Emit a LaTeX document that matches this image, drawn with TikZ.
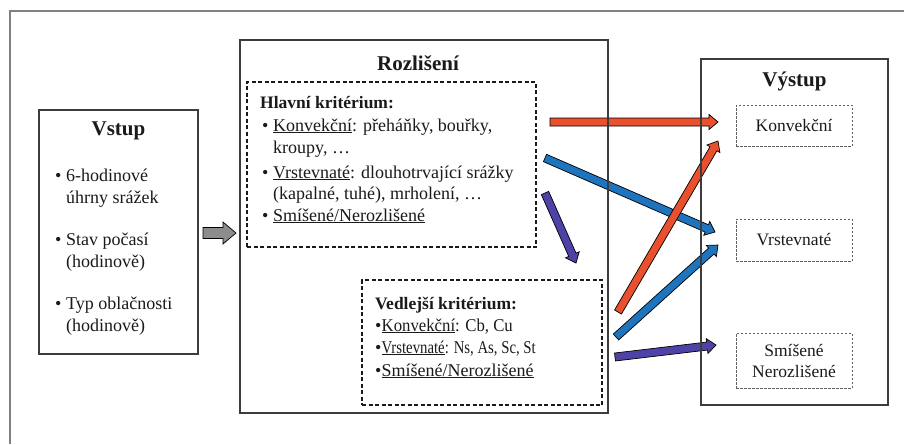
\documentclass[tikz,border=0pt]{standalone}
\usepackage{fontspec}
\usepackage{graphicx}
\setmainfont{Liberation Serif}
\usetikzlibrary{calc}
\definecolor{arrred}{HTML}{E8502E}
\definecolor{arrblue}{HTML}{1F74BE}
\definecolor{arrpurple}{HTML}{4E42A6}
\definecolor{arrgray}{HTML}{8C8C8C}
\definecolor{ink}{HTML}{1A1A1A}
\tikzset{
  solidbox/.style={draw=ink!85, line width=1.4pt, inner sep=0pt},
  dashbox/.style={draw=ink, line width=1.2pt, dash pattern=on 4pt off 2.5pt, inner sep=0pt},
  outbox/.style={draw=ink!70, line width=1pt, dash pattern=on 2.5pt off 1.5pt, inner sep=0pt, align=center, font=\fontsize{17.5}{21}\selectfont, text=ink},
  title/.style={font=\fontsize{21}{25}\selectfont\bfseries, text=ink, inner sep=0pt},
  body/.style={font=\fontsize{18}{22}\selectfont, text=ink, inner sep=0pt, anchor=base west},
  bodyb/.style={font=\fontsize{17.5}{22}\selectfont\bfseries, text=ink, inner sep=0pt, anchor=base west},
}
\newcommand\blockarrow[6]{% color, from, to, shaft half, head half, head length
  \coordinate (ba-c) at ($(#3)!#6!(#2)$);
  \filldraw[fill=#1, draw=black, line width=0.7pt, line join=miter]
    ($(#2)!#4!90:(#3)$) -- ($(ba-c)!#4!90:(#3)$) -- ($(ba-c)!#5!90:(#3)$) -- (#3)
    -- ($(ba-c)!#5!-90:(#3)$) -- ($(ba-c)!#4!-90:(#3)$) -- ($(#2)!#4!-90:(#3)$) -- cycle;
}
\newcommand\bul[1]{\makebox[#1][l]{•}}
\begin{document}
\begin{tikzpicture}[x=1pt, y=-1pt]
\useasboundingbox (0,0) rectangle (904,444);
\fill[white] (0,0) rectangle (904,444);
% outer frame
\coordinate (fr-tr) at (904,11);
\coordinate (fr-tl) at (10,11);
\coordinate (fr-bl) at (10,444);
\draw[color=black!50, line width=1.5pt] (fr-tr) -- (fr-tl) -- (fr-bl);

% arrow end points
\coordinate (g-s) at (203,233);  \coordinate (g-e) at (236,233);
\coordinate (r1-s) at (550,122); \coordinate (r1-e) at (718,122);
\coordinate (b1-s) at (545,158); \coordinate (b1-e) at (715,232);
\coordinate (p1-s) at (545,193); \coordinate (p1-e) at (576,263);
\coordinate (r2-s) at (618,312); \coordinate (r2-e) at (718,141);
\coordinate (b2-s) at (616,337); \coordinate (b2-e) at (718,245);
\coordinate (p2-s) at (615,357); \coordinate (p2-e) at (716,345);

\blockarrow{arrgray}{g-s}{g-e}{5.5pt}{11pt}{13pt}
\blockarrow{arrred}{r1-s}{r1-e}{4pt}{7.5pt}{9pt}
\blockarrow{arrblue}{b1-s}{b1-e}{4pt}{7.5pt}{9pt}
\blockarrow{arrpurple}{p1-s}{p1-e}{4pt}{7.5pt}{9pt}
\blockarrow{arrred}{r2-s}{r2-e}{4pt}{7.5pt}{9pt}
\blockarrow{arrblue}{b2-s}{b2-e}{4pt}{7.5pt}{9pt}
\blockarrow{arrpurple}{p2-s}{p2-e}{4pt}{7.5pt}{9pt}

% Vstup
\node[solidbox, minimum width=159pt, minimum height=244pt] (vstup) at (118.5,232) {};
\node[title] (vstup-t) at (118.5,131) {Vstup};
\node[body] (v1) at (55,181) {\bul{11pt}6-hodinové};
\node[body] (v2) at (66,203) {úhrny srážek};
\node[body] (v3) at (55,245) {\bul{11pt}Stav počasí};
\node[body] (v4) at (66,267) {(hodinově)};
\node[body] (v5) at (55,309) {\bul{11pt}Typ oblačnosti};
\node[body] (v6) at (66,331) {(hodinově)};

% Rozliseni
\node[solidbox, minimum width=368pt, minimum height=373pt] (rozl) at (424,226.5) {};
\node[title] (rozl-t) at (418,63) {Rozlišení};
\node[dashbox, minimum width=289pt, minimum height=165pt] (hlavni) at (391.5,164.5) {};
\node[bodyb] (h0) at (260,108) {Hlavní kritérium:};
\node[body] (h1) at (262,131) {\bul{11pt}\underline{Konvekční}: přeháňky, bouřky,};
\node[body] (h2) at (273,153) {kroupy, …};
\node[body] (h3) at (262,178) {\bul{11pt}\underline{Vrstevnaté}: dlouhotrvající srážky};
\node[body] (h4) at (273,199) {(kapalné, tuhé), mrholení, …};
\node[body] (h5) at (262,221) {\bul{11pt}\underline{Smíšené/Nerozlišené}};

\node[dashbox, minimum width=240pt, minimum height=125pt] (vedl) at (482,342.5) {};
\node[bodyb] (e0) at (375,309) {Vedlejší kritérium:};
\node[body] (e1) at (375,331) {\bul{6.5pt}\scalebox{0.93}[1]{\underline{Konvekční}: Cb, Cu}};
\node[body] (e2) at (375,353) {\bul{6.5pt}\scalebox{0.82}[1]{\underline{Vrstevnaté}: Ns, As, Sc, St}};
\node[body] (e3) at (375,376) {\bul{6.5pt}\underline{Smíšené/Nerozlišené}};

% Vystup
\node[solidbox, minimum width=187pt, minimum height=346pt] (vyst) at (794.5,232) {};
\node[title] (vyst-t) at (794.5,81) {Výstup};
\node[outbox, minimum width=116pt, minimum height=41pt] (o1) at (794,125.5) {Konvekční};
\node[outbox, minimum width=116pt, minimum height=42pt] (o2) at (794,240) {Vrstevnaté};
\node[outbox, minimum width=116pt, minimum height=55pt] (o3) at (794,360.5) {Smíšené\\Nerozlišené};
\end{tikzpicture}
\end{document}
